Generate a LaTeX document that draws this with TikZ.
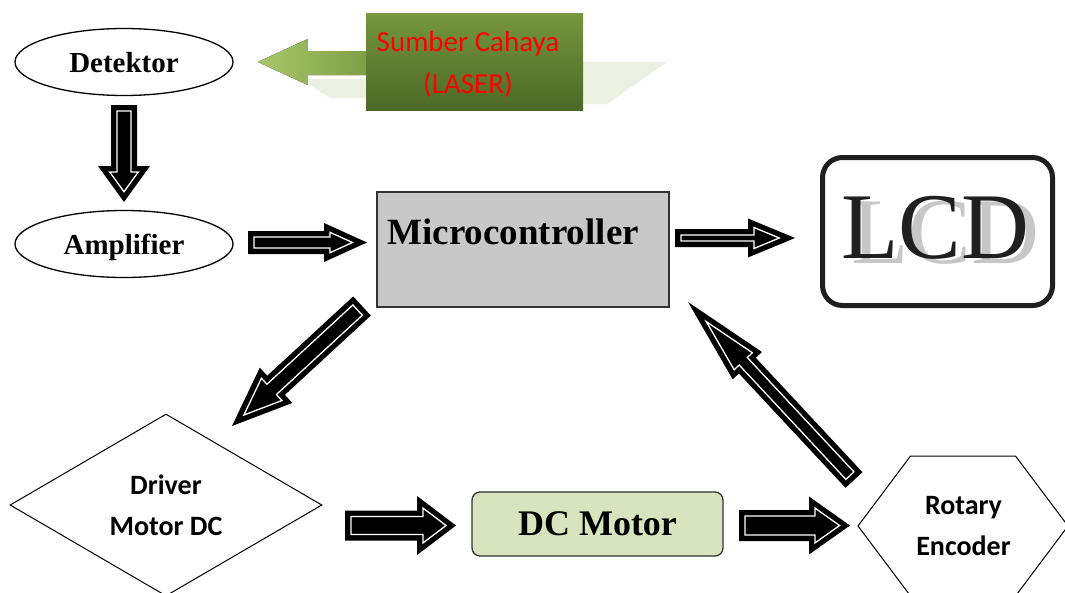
\documentclass[tikz,border=0pt]{standalone}
\usepackage{fontspec}
\setmainfont{Liberation Serif}
\newfontfamily\calibri{Carlito}
\usetikzlibrary{calc,shapes.geometric}

\definecolor{boxgray}{HTML}{C8C8C8}
\definecolor{motorgreen}{HTML}{D7E4BD}
\definecolor{lasertop}{HTML}{76963F}
\definecolor{laserbottom}{HTML}{4D6926}
\definecolor{beamleft}{HTML}{A8C76A}
\definecolor{beamright}{HTML}{7F9F48}
\definecolor{shadowgreen}{HTML}{EBF0E0}

\tikzset{
  blockfont/.style={font=\bfseries\fontsize{29}{34}\selectfont},
  sansfont/.style={font=\calibri\bfseries\fontsize{28}{41}\selectfont},
  oval/.style={ellipse, draw, line width=1.3pt, minimum width=218pt, minimum height=67pt,
    inner sep=0pt, text depth=0pt, blockfont},
}

% fat block arrow: style, tail, tip, half shaft, half head, head length
\newcommand{\arrowshape}[6]{%
  \coordinate (fh) at ($(#3)!#6pt!(#2)$);
  \path[#1] ($(#2)!#4pt!90:(#3)$) -- ($(fh)!#4pt!90:(#3)$) -- ($(fh)!#5pt!90:(#3)$) -- (#3)
    -- ($(fh)!#5pt!-90:(#3)$) -- ($(fh)!#4pt!-90:(#3)$) -- ($(#2)!#4pt!-90:(#3)$) -- cycle;
}
% black arrow with a white outline inside
\newcommand{\fatarrow}[5]{%
  \pgfmathsetmacro\tipback{6*veclen(#4,#5)/#4}
  \pgfmathsetmacro\innerlen{#5-6-\tipback}
  \pgfmathsetmacro\innerhead{#4*\innerlen/#5}
  \pgfmathsetmacro\innershaft{#3-6}
  \coordinate (fs) at ($(#1)!6pt!(#2)$);
  \coordinate (ft) at ($(#2)!\tipback pt!(#1)$);
  \arrowshape{fill=black}{#1}{#2}{#3}{#4}{#5}
  \arrowshape{draw=white, line width=1.3pt}{fs}{ft}{\innershaft}{\innerhead}{\innerlen}
}

\begin{document}
\begin{tikzpicture}[x=1pt, y=-1pt]
    \useasboundingbox (0, 0) rectangle (1065, 592);

    % light source
    \fill [shadowgreen] (583, 62) -- (667, 62) -- (607, 104) -- (583, 104) -- cycle;
    \fill [shadowgreen] (300, 79) -- (366, 79) -- (366, 98) -- (330, 98) -- cycle;
    \node [rectangle, minimum width=217pt, minimum height=97pt, top color=lasertop, bottom color=laserbottom,
      text=red, align=center, font=\calibri\fontsize{29}{42}\selectfont] (laser) at (474.5, 61.5) {};
    \node [text=red, align=center, inner sep=0pt, font=\calibri\fontsize{29}{42}\selectfont] (lasertxt) at (468, 64) {Sumber Cahaya\\(LASER)};
    \fill [left color=beamleft, right color=beamright] ($(laser.west) + (0, -10.5)$) -- ++(-58, 0) -- ++(0, -12)
      -- ++(-50, 23) -- ++(50, 23) -- ++(0, -10) -- ++(58, 0) -- cycle;

    % blocks
    \node [oval] (det) at (124, 62) {Detektor};
    \node [oval] (amp) at (124, 244) {Amplifier};

    \node [rectangle, draw=black!80, line width=1.5pt, fill=boxgray, minimum width=292pt, minimum height=115pt] (micro) at (523, 249.5) {};
    \node [anchor=base west, inner sep=0pt, font=\bfseries\fontsize{37}{40}\selectfont] (microtxt) at ($(micro.north west) + (11, 53)$) {Microcontroller};

    \node [rectangle, rounded corners=20pt, draw=black!88, line width=5pt, minimum width=230pt, minimum height=148pt] (lcd) at (937.5, 231.5) {};
    \node [anchor=base, inner sep=0pt, text=black!22, font=\fontsize{94}{96}\selectfont] (lcdshadow) at (945, 263) {LCD};
    \node [anchor=base, inner sep=0pt, text=black!88, font=\fontsize{94}{96}\selectfont] (lcdtxt) at (935, 258) {LCD};

    \node [diamond, draw, line width=1pt, aspect=1.7, minimum width=312pt, minimum height=182pt, align=center, sansfont] (drv) at (166, 505) {Driver\\Motor DC};

    \node [rectangle, rounded corners=8pt, draw=black!80, line width=1.3pt, fill=motorgreen, minimum width=251pt, minimum height=64pt,
      font=\bfseries\fontsize{36}{40}\selectfont] (dcm) at (597.5, 524) {DC Motor};

    \node [align=center, sansfont] (enc) at (963.5, 526) {Rotary\\Encoder};
    \draw [line width=1pt] ($(enc) + (-105.5, 0)$) -- ++(52.5, -70) -- ++(105, 0) -- ++(52.5, 70)
      -- ++(-52.5, 70) -- ++(-105, 0) -- cycle;

    % arrows
    \coordinate (detout) at (124, 105);
    \coordinate (ampin) at (124, 202);
    \coordinate (ampout) at (248, 242.5);
    \coordinate (microin) at (367, 242.5);
    \coordinate (microout) at (675, 238);
    \coordinate (lcdin) at (795, 238);
    \coordinate (microdown) at (362, 306);
    \coordinate (drvin) at (232, 426);
    \coordinate (drvout) at (345, 525.5);
    \coordinate (dcmin) at (456, 525.5);
    \coordinate (dcmout) at (739, 525.5);
    \coordinate (encin) at (850, 525.5);
    \coordinate (encout) at (854, 480);
    \coordinate (microback) at (688, 302);

    \fatarrow{detout}{ampin}{13}{26}{36}
    \fatarrow{ampout}{microin}{11.5}{19.5}{43}
    \fatarrow{microout}{lcdin}{9}{19.5}{47}
    \fatarrow{microdown}{drvin}{13}{24}{60}
    \fatarrow{drvout}{dcmin}{15}{29.5}{39}
    \fatarrow{dcmout}{encin}{15.5}{29}{41}
    \fatarrow{encout}{microback}{11.5}{20}{87}
  \end{tikzpicture}
\end{document}
